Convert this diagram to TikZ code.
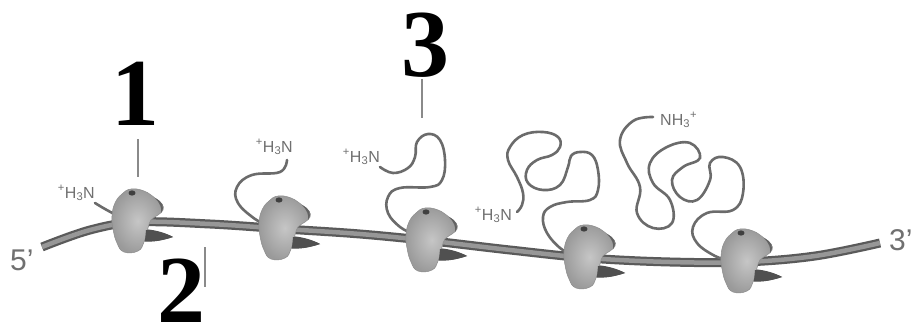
\documentclass[tikz,border=0pt]{standalone}
\usepackage{fontspec}
\setmainfont{Liberation Serif}
\newfontfamily\labfont{Liberation Sans}
\definecolor{chain}{HTML}{6B6B6B}
\definecolor{strandedge}{HTML}{5A5A5A}
\definecolor{strandfill}{HTML}{979797}
\definecolor{labgray}{HTML}{707070}
\definecolor{footgray}{HTML}{505050}
\definecolor{rimgray}{HTML}{626262}
\definecolor{spotgray}{HTML}{404040}
\definecolor{tickgray}{HTML}{8A8A8A}
\definecolor{ribolight}{HTML}{C6C6C6}
\definecolor{ribodark}{HTML}{9A9A9A}
\definecolor{riboedge}{HTML}{8C8C8C}
\tikzset{
  ribosome/.pic={
    \fill[footgray] (2,7) .. controls (14,7) and (26,10) .. (35,15) .. controls (26,18) and (14,21) .. (3,19) -- cycle;
    \shade[inner color=ribolight, outer color=ribodark, draw=riboedge, line width=0.5pt]
      plot[smooth cycle, tension=0.75] coordinates {(-7,-33) (6,-31) (17,-24) (24,-18) (25,-12) (20,-7) (13,-2) (10,6) (6,20) (0,29) (-14,30) (-21,21) (-25,7) (-26,-6) (-23,-19) (-16,-28)};
    \fill[footgray] (8,8) .. controls (18,9) and (27,11) .. (35,15) .. controls (26,18) and (16,20) .. (7,19) -- cycle;
    \fill[rimgray] (17,-24) .. controls (25,-20) and (27,-15) .. (23,-9) .. controls (24,-14) and (22,-19) .. (17,-24);
    \fill[spotgray] (-6,-29) ellipse [x radius=3.5, y radius=2.6];
  },
  chainline/.style={line width=2.6pt, color=chain, line cap=round},
  ticklinestyle/.style={line width=1.3pt, color=tickgray},
  numstyle/.style={font=\bfseries\fontsize{96}{96}\selectfont, anchor=base, inner sep=0pt, text depth=0pt},
  nterm/.style={font=\labfont\fontsize{16}{16}\selectfont, text=labgray, inner sep=0pt},
  endlab/.style={font=\labfont\fontsize{30}{30}\selectfont, text=labgray, inner sep=0pt, anchor=base west}
}
\begin{document}
\begin{tikzpicture}[x=1pt,y=-1pt]
\useasboundingbox[fill=white] (0,0) rectangle (920,329);
% mRNA strand
\draw[line width=9pt, color=strandedge] plot[smooth, tension=0.6] coordinates {(42,247) (90,230) (138,222) (210,224) (285,229) (360,234) (432,241) (510,250) (588,258) (670,262) (745,262) (815,256) (880,243)};
\draw[line width=4.5pt, color=strandfill] plot[smooth, tension=0.6] coordinates {(42,247) (90,230) (138,222) (210,224) (285,229) (360,234) (432,241) (510,250) (588,258) (670,262) (745,262) (815,256) (880,243)};
% polypeptide chains
\draw[chainline] plot[smooth, tension=0.7] coordinates {(95,203) (105,209) (118,216)};
\draw[chainline] plot[smooth, tension=0.7] coordinates {(287,160) (280,172) (252,175) (237,187) (238,203) (255,219) (266,224)};
\draw[chainline] plot[smooth, tension=0.7] coordinates {(380,167) (393,173) (408,168) (415,157) (417,142) (428,134) (440,140) (445,160) (442,180) (430,187) (400,188) (388,197) (388,213) (400,227) (412,233)};
\draw[chainline] plot[smooth, tension=0.7] coordinates {(517,212) (522,205) (523,193) (517,177) (508,160) (510,147) (523,135) (543,132) (558,137) (560,147) (552,155) (537,160) (527,170) (528,183) (543,190) (560,185) (568,167) (571,156) (580,152) (592,155) (598,170) (598,190) (590,200) (567,202) (550,207) (543,217) (547,233) (560,248) (570,253)};
\draw[chainline] plot[smooth, tension=0.7] coordinates {(653,117) (633,121) (620,140) (627,163) (640,187) (637,213) (653,228) (672,223) (670,200) (653,183) (650,163) (667,147) (690,143) (700,158) (683,167) (672,180) (680,197) (697,200) (710,180) (710,163) (723,157) (740,167) (743,193) (733,210) (707,213) (693,227) (697,243) (715,256) (726,259)};
% ribosomes
\pic at (138,222) {ribosome};
\pic at (285,229) {ribosome};
\pic at (432,241) {ribosome};
\pic at (590,258) {ribosome};
\pic at (747,262) {ribosome};
% N-terminus labels
\node[nterm, anchor=base east] (t1) at (95,198) {\textsuperscript{+}H\textsubscript{3}N};
\node[nterm, anchor=base east] (t2) at (293,152) {\textsuperscript{+}H\textsubscript{3}N};
\node[nterm, anchor=base east] (t3) at (380,162) {\textsuperscript{+}H\textsubscript{3}N};
\node[nterm, anchor=base east] (t4) at (512,220) {\textsuperscript{+}H\textsubscript{3}N};
\node[nterm, anchor=base west] (t5) at (660,125) {NH\textsubscript{3}\textsuperscript{+}};
% end labels
\node[endlab] (five) at (10,270) {5’};
\node[endlab] (three) at (889,250) {3’};
% numbers and pointer lines
\node[numstyle] (n1) at (135,125) {1};
\node[numstyle] (n2) at (181,322) {2};
\node[numstyle] (n3) at (425,77) {3};
\coordinate (p1a) at (138,139);
\coordinate (p1b) at (138,177);
\coordinate (p2a) at (205,247);
\coordinate (p2b) at (205,287);
\coordinate (p3a) at (422,79);
\coordinate (p3b) at (422,118);
\draw[ticklinestyle] (p1a) -- (p1b);
\draw[ticklinestyle] (p2a) -- (p2b);
\draw[ticklinestyle] (p3a) -- (p3b);
\end{tikzpicture}
\end{document}
